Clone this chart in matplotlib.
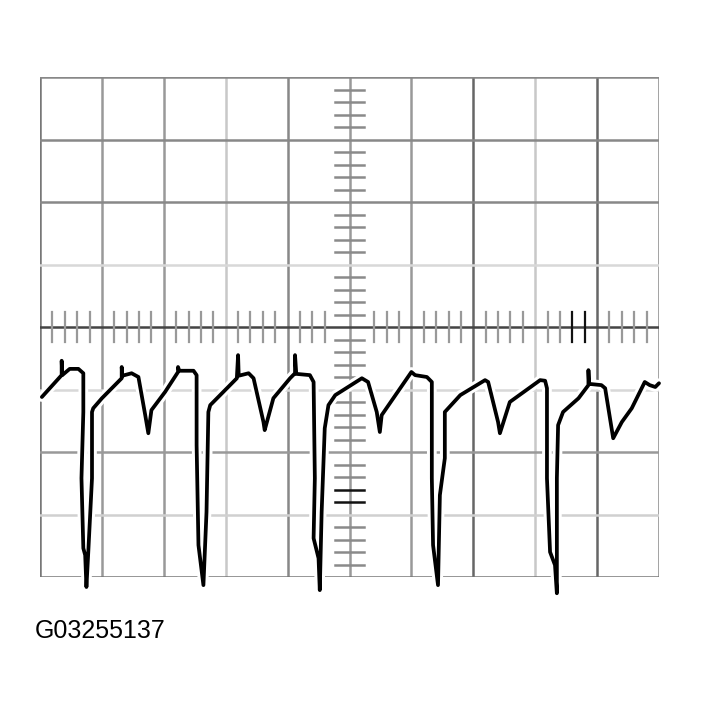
import matplotlib.pyplot as plt
import matplotlib.patheffects as pe
import numpy as np

# Scope trace in divisions (x: 0..10, y: -4..4)
time_div = [
    0.03, 0.35, 0.35, 0.36, 0.48, 0.62, 0.70, 0.70, 0.67, 0.70, 0.73, 0.75,
    0.78, 0.84, 0.84, 0.86, 1.00, 1.32, 1.32, 1.33, 1.48, 1.59, 1.70, 1.75,
    1.80, 2.02, 2.23, 2.23, 2.25, 2.48, 2.53, 2.53, 2.56, 2.64, 2.69, 2.72,
    2.75, 3.18, 3.20, 3.21, 3.37, 3.45, 3.61, 3.63, 3.77, 4.04, 4.12, 4.12,
    4.14, 4.36, 4.42, 4.44, 4.42, 4.50, 4.52, 4.55, 4.60, 4.66, 4.77, 5.20,
    5.30, 5.44, 5.49, 5.52, 6.00, 6.06, 6.25, 6.33, 6.33, 6.35, 6.43, 6.46,
    6.54, 6.54, 6.79, 7.19, 7.24, 7.40, 7.43, 7.59, 8.08, 8.16, 8.19, 8.19,
    8.24, 8.32, 8.35, 8.35, 8.37, 8.45, 8.70, 8.86, 8.86, 8.87, 9.07, 9.13,
    9.26, 9.40, 9.56, 9.77, 9.85, 9.94, 10.0,
]
volts_div = [
    -1.12, -0.77, -0.54, -0.77, -0.67, -0.67, -0.74, -1.36, -2.42, -3.54, -3.65, -4.16,
    -3.60, -2.42, -1.36, -1.30, -1.14, -0.82, -0.64, -0.78, -0.74, -0.80, -1.41, -1.70,
    -1.33, -1.04, -0.72, -0.64, -0.70, -0.70, -0.77, -1.89, -3.49, -4.13, -2.96, -1.36,
    -1.25, -0.82, -0.45, -0.78, -0.74, -0.82, -1.52, -1.65, -1.14, -0.82, -0.74, -0.45,
    -0.75, -0.77, -0.88, -2.42, -3.38, -3.70, -4.21, -2.96, -1.62, -1.25, -1.09, -0.82,
    -0.88, -1.36, -1.68, -1.41, -0.72, -0.77, -0.80, -0.88, -2.42, -3.49, -4.13, -2.69,
    -2.10, -1.36, -1.09, -0.85, -0.88, -1.52, -1.70, -1.20, -0.85, -0.86, -0.98, -2.42,
    -3.60, -3.81, -4.26, -2.42, -1.57, -1.36, -1.14, -0.93, -0.69, -0.91, -0.93, -0.98,
    -1.78, -1.52, -1.30, -0.88, -0.93, -0.96, -0.90,
]

figure_label = "G03255137"

# Graticule shades (some lines print lighter than others)
vline_colors = ["#777777", "#999999", "#999999", "#c8c8c8", "#888888", "#999999",
                "#999999", "#666666", "#c8c8c8", "#666666", "#888888"]
hline_colors = ["#777777", "#d0d0d0", "#999999", "#d8d8d8", "#444444",
                "#d8d8d8", "#888888", "#888888", "#888888"]

fig = plt.figure(figsize=(7.01, 7.15), dpi=100)
ax = fig.add_axes([40 / 701, 138 / 715, 619 / 701, 500 / 715])
ax.set_xlim(0, 10)
ax.set_ylim(-4, 4)
ax.axis("off")

# Major divisions
for i, c in enumerate(vline_colors):
    ax.axvline(i, color=c, lw=1.8, zorder=1)
for j, c in enumerate(hline_colors):
    ax.axhline(j - 4, color=c, lw=1.8, zorder=1)

# Minor ticks on the centre lines
for k in range(1, 50):
    if k % 5 == 0 or k in (24, 26):
        continue
    x = k / 5
    shade = "#111111" if k in (43, 44) else "#999999"
    ax.plot([x, x], [-0.24, 0.24], color=shade, lw=1.6, zorder=2)
for k in range(-19, 20):
    if k % 5 == 0:
        continue
    y = k / 5
    shade = "#111111" if k in (-13, -14) else "#8a8a8a"
    ax.plot([4.76, 5.24], [y, y], color=shade, lw=1.8, zorder=2)

# The trace, with a white halo where it crosses the grid
ax.plot(time_div, volts_div, color="black", lw=2.7, clip_on=False,
        solid_joinstyle="round", solid_capstyle="round", zorder=5,
        path_effects=[pe.Stroke(linewidth=7, foreground="white"), pe.Normal()])

fig.text(35 / 701, 1 - 638 / 715, figure_label, fontsize=18,
         family=["Liberation Sans", "DejaVu Sans"], va="baseline", ha="left")

fig.savefig("out.png", dpi=100)
